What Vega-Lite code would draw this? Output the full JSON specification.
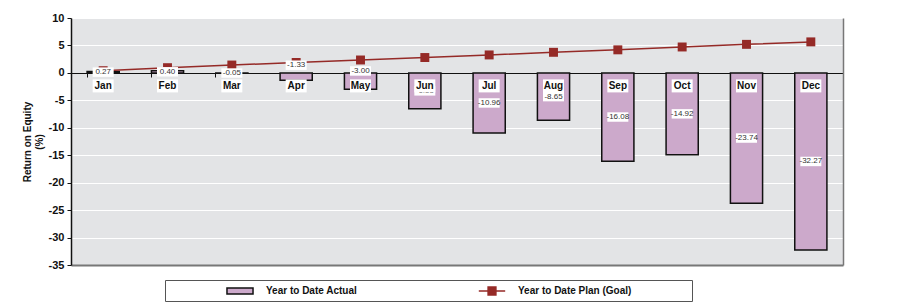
{
  "$schema": "https://vega.github.io/schema/vega-lite/v6.json",
  "width": 772,
  "height": 247,
  "autosize": {"type": "none"},
  "padding": {"left": 71, "top": 18, "right": 60, "bottom": 39},
  "background": "white",
  "config": {
    "font": "Liberation Sans",
    "view": {"fill": "#e3e4e6", "stroke": null},
    "locale": {"number": {"decimal": ".", "thousands": ",", "grouping": [3], "currency": ["$", ""], "minus": "-"}}
  },
  "data": {
    "values": [
      {"month": "Jan", "actual": 0.27, "plan": 0.4},
      {"month": "Feb", "actual": 0.40, "plan": 0.95},
      {"month": "Mar", "actual": -0.05, "plan": 1.43},
      {"month": "Apr", "actual": -1.33, "plan": 1.9},
      {"month": "May", "actual": -3.00, "plan": 2.35},
      {"month": "Jun", "actual": -6.55, "plan": 2.8},
      {"month": "Jul", "actual": -10.96, "plan": 3.27},
      {"month": "Aug", "actual": -8.65, "plan": 3.75},
      {"month": "Sep", "actual": -16.08, "plan": 4.2},
      {"month": "Oct", "actual": -14.92, "plan": 4.72},
      {"month": "Nov", "actual": -23.74, "plan": 5.2},
      {"month": "Dec", "actual": -32.27, "plan": 5.65}
    ]
  },
  "resolve": {"axis": {"x": "independent", "y": "independent"}},
  "layer": [
    {
      "mark": {"type": "bar", "stroke": "#111", "strokeWidth": 1.5},
      "encoding": {
        "x": {
          "field": "month", "type": "nominal", "sort": null,
          "scale": {"paddingInner": 0.5, "paddingOuter": 0.25},
          "axis": {
            "orient": "bottom", "offset": -192, "labels": false, "title": null,
            "bandPosition": 0, "domainColor": "#111", "domainWidth": 1,
            "tickColor": "#111", "tickSize": 4, "grid": false
          }
        },
        "y": {
          "field": "actual", "type": "quantitative",
          "scale": {"domain": [-35, 10], "nice": false, "zero": false},
          "axis": {
            "orient": "left", "values": [-35, -30, -25, -20, -15, -10, -5, 0, 5, 10],
            "title": ["Return on Equity", "(%)"], "titleFont": "Liberation Sans",
            "titleFontWeight": "bold", "titleFontSize": 10, "titleColor": "#111",
            "titlePadding": 4,
            "labelFont": "Liberation Sans", "labelFontWeight": "bold", "labelFontSize": 11,
            "labelColor": "#111", "labelPadding": 3,
            "domainColor": "#111", "domainWidth": 1.5, "tickColor": "#111", "tickSize": 4,
            "grid": true, "gridColor": "#ffffff", "gridWidth": 1
          }
        },
        "fill": {
          "datum": "Year to Date Actual",
          "scale": {"domain": ["Year to Date Actual"], "range": ["#cca9cb"]},
          "legend": {
            "orient": "none", "legendX": 94, "legendY": 262, "direction": "horizontal",
            "title": null, "strokeColor": "#555", "padding": 4,
            "symbolSize": 144, "symbolOffset": 64, "labelOffset": 19, "labelLimit": 600,
            "symbolType": "M-2.17,-0.5H2.17V0.5H-2.17Z",
            "symbolStrokeColor": "#111", "symbolStrokeWidth": 1.5, "symbolOpacity": 1,
            "labelFont": "Liberation Sans", "labelFontWeight": "bold", "labelFontSize": 10,
            "labelColor": "#111",
            "labelExpr": "pad(datum.label, 138) + '\u200b'"
          }
        }
      }
    },
    {
      "mark": {"type": "line", "strokeWidth": 1.5},
      "encoding": {
        "x": {
          "field": "month", "type": "nominal", "sort": null,
          "axis": {"orient": "bottom", "offset": 0, "labels": false, "ticks": false, "title": null, "domainColor": "#777", "domainWidth": 2, "grid": false}
        },
        "y": {
          "field": "plan", "type": "quantitative",
          "axis": {"orient": "right", "labels": false, "ticks": false, "title": null, "domainColor": "#777", "domainWidth": 1.5, "grid": false}
        },
        "stroke": {
          "datum": "Year to Date Plan (Goal)",
          "scale": {"domain": ["Year to Date Plan (Goal)"], "range": ["#952a27"]},
          "legend": {
            "orient": "none", "legendX": 414, "legendY": 266, "direction": "horizontal",
            "title": null, "padding": 0,
            "symbolSize": 144, "symbolOffset": 0, "labelOffset": 19,
            "symbolType": "M-2.2,0H2.2M-0.65,-0.65H0.65V0.65H-0.65Z",
            "symbolFillColor": "#952a27", "symbolStrokeWidth": 1.5, "symbolOpacity": 1,
            "labelFont": "Liberation Sans", "labelFontWeight": "bold", "labelFontSize": 10,
            "labelColor": "#111"
          }
        }
      }
    },
    {
      "mark": {"type": "point", "shape": "square", "size": 80, "filled": true, "color": "#952a27", "opacity": 1},
      "encoding": {
        "x": {"field": "month", "type": "nominal", "sort": null, "axis": null},
        "y": {"field": "plan", "type": "quantitative", "axis": null}
      }
    },
    {
      "transform": [{"calculate": "datum.month == 'Apr' ? 1.4 : datum.month == 'May' ? 0.35 : datum.actual / 2", "as": "mid"}],
      "mark": {"type": "point", "shape": "M-1,-0.45H1V0.45H-1Z", "size": 441, "filled": true, "fill": "white", "opacity": 1, "strokeWidth": 0},
      "encoding": {
        "x": {"field": "month", "type": "nominal", "sort": null, "axis": null},
        "y": {"field": "mid", "type": "quantitative", "axis": null}
      }
    },
    {
      "transform": [{"calculate": "datum.month == 'Apr' ? 1.4 : datum.month == 'May' ? 0.35 : datum.actual / 2", "as": "mid"}],
      "mark": {"type": "text", "font": "Liberation Sans", "fontSize": 8, "color": "#333", "baseline": "middle"},
      "encoding": {
        "x": {"field": "month", "type": "nominal", "sort": null, "axis": null},
        "y": {"field": "mid", "type": "quantitative", "axis": null},
        "text": {"field": "actual", "type": "quantitative", "format": ".2f"}
      }
    },
    {
      "mark": {"type": "point", "shape": "M-1,-0.62H1V0.62H-1Z", "size": 441, "filled": true, "fill": "white", "opacity": 1, "strokeWidth": 0, "yOffset": 13},
      "encoding": {
        "x": {"field": "month", "type": "nominal", "sort": null, "axis": null},
        "y": {"datum": 0, "type": "quantitative", "axis": null}
      }
    },
    {
      "mark": {"type": "text", "font": "Liberation Sans", "fontSize": 10, "fontWeight": "bold", "color": "#111", "baseline": "middle", "yOffset": 13},
      "encoding": {
        "x": {"field": "month", "type": "nominal", "sort": null, "axis": null},
        "y": {"datum": 0, "type": "quantitative", "axis": null},
        "text": {"field": "month"}
      }
    }
  ]
}
